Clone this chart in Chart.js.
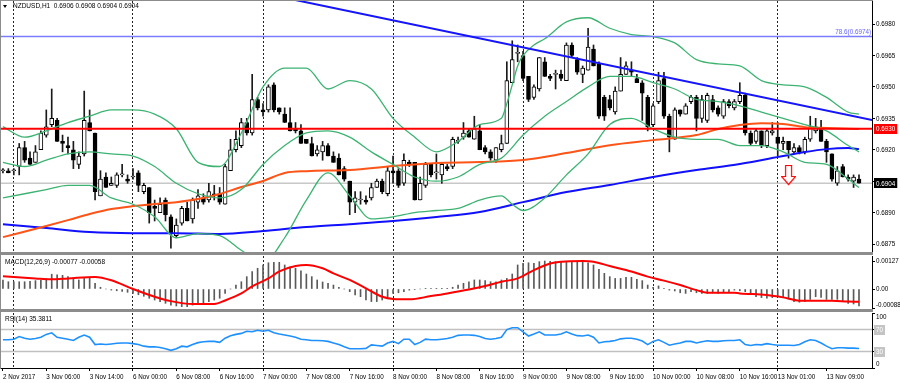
<!DOCTYPE html>
<html><head><meta charset="utf-8"><title>NZDUSD H1</title>
<script src="https://cdn.jsdelivr.net/npm/chart.js@4.4.1/dist/chart.umd.min.js"></script>
<style>
html,body{margin:0;padding:0;background:#fff;}
body{width:900px;height:383px;position:relative;overflow:hidden;font-family:"Liberation Sans",Arial,sans-serif;}
.pane{position:absolute;left:0;width:900px;}
.pane canvas{display:block;}
.sep{position:absolute;left:0;width:873px;background:#8c8c8c;}
.txt{position:absolute;font-size:6.5px;line-height:8px;color:#000;white-space:pre;}
</style></head><body>
<div class="pane" style="top:0;height:253px"><canvas id="cMain" width="900" height="253"></canvas></div>
<div class="pane" style="top:253px;height:57px"><canvas id="cMacd" width="900" height="57"></canvas></div>
<div class="pane" style="top:310px;height:73px"><canvas id="cRsi" width="900" height="73"></canvas></div>
<div class="sep" style="top:252px;height:3px"></div>
<div class="sep" style="top:309px;height:3px"></div>
<div class="sep" style="top:0;height:1px"></div>
<div style="position:absolute;left:0;top:0;width:1px;height:369px;background:#8c8c8c"></div>
<div style="position:absolute;left:3px;top:5px;width:0;height:0;border-left:2.5px solid transparent;border-right:2.5px solid transparent;border-top:3px solid #000"></div>
<div class="txt" style="left:13px;top:2px">NZDUSD,H1  0.6906 0.6908 0.6904 0.6904</div>
<div class="txt" style="left:5px;top:258px">MACD(12,26,9) -0.00077 -0.00058</div>
<div class="txt" style="left:5px;top:315px">RSI(14) 35.3811</div>
<script>
// ---------- DATA ----------
const opens = [.6910,.6910,.6910,.6912,.6921,.6916,.6914,.6920,.6927,.6932,
 .6934,.6924,.6922,.6920,.6913,.6918,.6933,.6928,.6898,.6907,
 .6903,.6903,.6908,.6906,.6907,.6909,.6900,.6902,.6893,.6890,
 .6896,.6888,.6879,.6885,.6892,.6887,.6895,.6897,.6896,.6899,
 .6899,.6894,.6910,.6920,.6922,.6933,.6928,.6944,.6939,.6939,
 .6951,.6940,.6937,.6933,.6930,.6929,.6925,.6923,.6918,.6919,
 .6922,.6917,.6916,.6911,.6905,.6895,.6896,.6896,.6897,.6902,
 .6905,.6899,.6910,.6910,.6904,.6914,.6914,.6896,.6903,.6913,
 .6909,.6908,.6912,.6912,.6924,.6926,.6929,.6925,.6929,.6921,
 .6919,.6915,.6920,.6923,.6952,.6966,.6965,.6955,.6945,.6949,
 .6962,.6955,.6956,.6956,.6953,.6970,.6963,.6956,.6958,.6968,
 .6961,.6945,.6944,.6938,.6948,.6956,.6958,.6954,.6952,.6945,
 .6932,.6943,.6954,.6936,.6925,.6939,.6937,.6943,.6945,.6935,
 .6934,.6944,.6940,.6936,.6943,.6940,.6943,.6946,.6928,.6924,
 .6929,.6922,.6928,.6926,.6923,.6924,.6919,.6921,.6919,.6925,
 .6929,.6930,.6924,.6918,.6904,.6912,.6907,.6905,.6906];
const highs = [.6911,.6911,.6911,.6923,.6924,.6919,.6922,.6929,.6939,.6949,
 .6935,.6927,.6926,.6924,.6919,.6948,.6939,.6928,.6910,.6909,
 .6907,.6909,.6913,.6908,.6911,.6910,.6904,.6902,.6896,.6897,
 .6897,.6889,.6887,.6893,.6895,.6897,.6901,.6899,.6904,.6903,
 .6902,.6913,.6925,.6929,.6935,.6935,.6956,.6945,.6942,.6951,
 .6952,.6940,.6940,.6940,.6933,.6932,.6925,.6926,.6922,.6924,
 .6923,.6919,.6918,.6912,.6905,.6900,.6900,.6898,.6904,.6906,
 .6906,.6912,.6917,.6911,.6918,.6915,.6914,.6907,.6914,.6913,
 .6918,.6914,.6913,.6926,.6926,.6933,.6930,.6936,.6932,.6922,
 .6920,.6921,.6927,.6962,.6972,.6970,.6967,.6955,.6951,.6964,
 .6964,.6956,.6958,.6958,.6971,.6971,.6964,.6960,.6978,.6970,
 .6962,.6946,.6946,.6950,.6964,.6962,.6962,.6956,.6953,.6946,
 .6942,.6957,.6957,.6937,.6940,.6939,.6942,.6946,.6946,.6946,
 .6947,.6946,.6941,.6944,.6944,.6944,.6952,.6947,.6929,.6930,
 .6929,.6930,.6933,.6933,.6926,.6924,.6923,.6922,.6926,.6936,
 .6935,.6934,.6925,.6918,.6912,.6913,.6908,.6908,.6908];
const lows = [.6909,.6909,.6908,.6908,.6914,.6913,.6914,.6920,.6926,.6931,
 .6924,.6919,.6918,.6911,.6911,.6917,.6929,.6896,.6898,.6902,
 .6903,.6902,.6907,.6904,.6906,.6900,.6899,.6885,.6886,.6890,
 .6886,.6873,.6878,.6884,.6886,.6885,.6892,.6894,.6895,.6896,
 .6894,.6894,.6910,.6919,.6921,.6927,.6927,.6939,.6936,.6938,
 .6938,.6937,.6933,.6929,.6928,.6923,.6923,.6917,.6917,.6915,
 .6917,.6914,.6908,.6905,.6889,.6890,.6894,.6894,.6896,.6902,
 .6899,.6898,.6904,.6902,.6903,.6912,.6896,.6896,.6902,.6907,
 .6906,.6904,.6910,.6911,.6923,.6925,.6926,.6925,.6920,.6918,
 .6915,.6914,.6919,.6923,.6952,.6962,.6953,.6943,.6944,.6948,
 .6955,.6953,.6949,.6953,.6953,.6964,.6956,.6952,.6958,.6960,
 .6935,.6934,.6939,.6937,.6948,.6956,.6955,.6952,.6934,.6929,
 .6931,.6942,.6935,.6919,.6925,.6936,.6937,.6942,.6929,.6933,
 .6933,.6938,.6936,.6935,.6940,.6939,.6942,.6927,.6922,.6923,
 .6921,.6921,.6927,.6917,.6920,.6916,.6918,.6918,.6918,.6924,
 .6928,.6924,.6914,.6905,.6903,.6907,.6905,.6902,.6904];
const closes = [.6910,.6909,.6910,.6921,.6915,.6913,.6919,.6928,.6931,.6935,
 .6924,.6923,.6921,.6915,.6917,.6934,.6929,.6900,.6906,.6902,
 .6904,.6908,.6908,.6905,.6907,.6903,.6903,.6890,.6892,.6894,
 .6889,.6880,.6884,.6892,.6886,.6896,.6898,.6895,.6900,.6898,
 .6895,.6912,.6920,.6925,.6933,.6928,.6944,.6940,.6938,.6950,
 .6939,.6938,.6933,.6929,.6929,.6923,.6923,.6917,.6920,.6922,
 .6917,.6914,.6908,.6906,.6895,.6897,.6896,.6895,.6902,.6905,
 .6900,.6910,.6909,.6903,.6915,.6913,.6896,.6904,.6913,.6908,
 .6909,.6913,.6911,.6925,.6924,.6928,.6926,.6930,.6920,.6919,
 .6916,.6921,.6923,.6953,.6963,.6966,.6954,.6944,.6950,.6964,
 .6955,.6954,.6956,.6954,.6970,.6965,.6957,.6959,.6969,.6960,
 .6936,.6936,.6940,.6948,.6956,.6960,.6957,.6952,.6947,.6931,
 .6941,.6953,.6936,.6926,.6939,.6937,.6941,.6945,.6935,.6944,
 .6946,.6939,.6937,.6943,.6941,.6943,.6946,.6928,.6923,.6929,
 .6922,.6929,.6929,.6923,.6924,.6920,.6921,.6919,.6925,.6931,
 .6931,.6924,.6919,.6906,.6910,.6907,.6906,.6907,.6904];

// Bollinger bands (20,2), moving averages: values read at sampled bars
const upperIdx = [0,4,8,12,16,20,24,28,32,36,40,44,48,52,56,60,64,68,72,76,80,84,88,92,93,94,95,96,98,100,104,108,112,116,120,124,128,132,136,140,144,148,152,156,158];
const upperVal = [0.6931,0.6926,0.6929,0.6933,0.6936,0.6939,0.6939,0.6937,0.6930,0.6914,0.6912,0.6928,0.6950,0.6959,0.6959,0.6949,0.6953,0.6949,0.6935,0.6926,0.6919,0.6924,0.6932,0.6935,0.6942,0.6951,0.6960,0.6965,0.6970,0.6973,0.6981,0.6983,0.6978,0.6975,0.6974,0.6971,0.6963,0.6961,0.6960,0.6953,0.6951,0.6950,0.6945,0.6938,0.6937];
const middleIdx = [0,4,8,12,16,20,24,28,32,36,40,44,48,52,56,60,64,68,72,76,80,84,88,92,96,100,104,108,112,116,120,124,128,132,136,140,144,148,152,156,158];
const middleVal = [0.6914,0.6912,0.6915,0.6918,0.6919,0.6918,0.6917,0.6912,0.6904,0.6899,0.6897,0.6901,0.6913,0.6922,0.6928,0.6929,0.6926,0.6919,0.6913,0.6907,0.6905,0.6907,0.6913,0.6916,0.6927,0.6936,0.6943,0.6950,0.6955,0.6955,0.6952,0.6949,0.6944,0.6943,0.6941,0.6938,0.6935,0.6932,0.6929,0.6922,0.6919];
const lowerIdx = [0,4,8,12,16,20,24,28,32,36,40,44,48,52,56,60,64,68,72,76,80,84,88,92,94,96,100,104,108,112,116,120,124,128,132,136,140,144,148,152,156,158];
const lowerVal = [0.6897,0.6899,0.6901,0.6903,0.6903,0.6897,0.6894,0.6888,0.6878,0.6880,0.6879,0.6872,0.6866,0.6878,0.6896,0.6909,0.6898,0.6887,0.6888,0.6890,0.6891,0.6892,0.6896,0.6898,0.6894,0.6891,0.6897,0.6908,0.6918,0.6932,0.6935,0.6930,0.6926,0.6925,0.6925,0.6922,0.6922,0.6919,0.6914,0.6913,0.6906,0.6902];
const orangeIdx = [0,8,12,16,20,24,28,32,36,40,44,48,52,56,64,72,80,88,96,104,112,120,128,132,136,140,144,148,152,158];
const orangeVal = [0.68783,0.68836,0.68864,0.68893,0.68917,0.68931,0.68941,0.68950,0.68965,0.68989,0.69022,0.69051,0.69089,0.69098,0.69103,0.69122,0.69137,0.69141,0.69151,0.69184,0.69222,0.69246,0.69270,0.69299,0.69318,0.69327,0.69323,0.69308,0.69304,0.69299];
const blueIdx = [0,8,16,24,32,40,48,56,64,72,80,88,96,104,112,120,128,136,144,148,152,156,158];
const blueVal = [0.68845,0.68826,0.68807,0.68802,0.68802,0.68798,0.68812,0.68831,0.68845,0.68860,0.68879,0.68903,0.68950,0.68998,0.69032,0.69070,0.69103,0.69132,0.69170,0.69189,0.69203,0.69208,0.69203];

// Drawn objects
const trendIdx = [50, 161];
const trendVal = [0.69936, 0.69339];
const resistanceLevel = 0.6930;
const fibLevel = 0.6974;
const fibText = '78.6(0.6974)';
const bidLevel = 0.6904;
const arrowIdx = 145, arrowVal = 0.69077;

// MACD (main as histogram, signal as line)
const macdHist = [.00041,.00033,.00033,.00033,.00033,.00035,.00038,.00041,.00048,.00067,
 .00064,.00062,.00056,.00047,.00041,.00048,.00050,.00026,.00008,.00000,
 -.00005,-.00008,-.00011,-.00015,-.00020,-.00026,-.00033,-.00042,-.00050,-.00057,
 -.00065,-.00073,-.00077,-.00080,-.00080,-.00073,-.00068,-.00065,-.00057,-.00050,
 -.00042,-.00020,.00000,.00018,.00033,.00056,.00079,.00094,.00109,.00119,
 .00121,.00121,.00109,.00101,.00094,.00083,.00068,.00056,.00041,.00032,
 .00026,.00018,.00008,.00000,-.00012,-.00027,-.00035,-.00050,-.00057,-.00057,
 -.00050,-.00035,-.00020,-.00017,-.00012,-.00005,-.00002,.00000,.00003,.00003,
 .00003,.00003,.00003,.00008,.00018,.00026,.00033,.00041,.00041,.00038,
 .00033,.00033,.00041,.00048,.00068,.00109,.00116,.00119,.00116,.00124,
 .00127,.00126,.00124,.00126,.00126,.00126,.00125,.00124,.00119,.00109,
 .00089,.00071,.00056,.00048,.00048,.00053,.00053,.00044,.00038,.00018,
 .00008,.00014,.00003,-.00005,-.00009,-.00017,-.00020,-.00012,-.00017,-.00020,
 -.00020,-.00017,-.00020,-.00012,-.00012,-.00005,-.00008,-.00012,-.00020,-.00035,
 -.00039,-.00042,-.00039,-.00035,-.00038,-.00045,-.00057,-.00060,-.00057,-.00047,
 -.00035,-.00038,-.00047,-.00047,-.00047,-.00057,-.00065,-.00068,-.00077];
const sigIdx = [0,6,9,12,17,20,24,28,31,35,39,41,44,46,49,51,54,56,59,61,64,67,70,72,75,79,82,86,89,92,95,98,101,103,107,109,112,116,119,122,125,128,130,135,136,141,144,147,153,156,158];
const sigVal = [.00058,.00048,.00044,.00048,.00055,.00040,.00000,-.00035,-.00055,-.00068,-.00068,-.00052,-.00020,.00012,.00048,.00080,.00104,.00109,.00094,.00071,.00041,.00003,-.00035,-.00045,-.00047,-.00032,-.00020,-.00002,.00014,.00033,.00048,.00086,.00116,.00124,.00127,.00124,.00104,.00079,.00056,.00038,.00018,-.00005,-.00017,-.00017,-.00020,-.00027,-.00038,-.00053,-.00053,-.00057,-.00058];

// RSI(14)
const rsi = [51.3,51.3,52.4,57.1,54.2,52.4,53.6,55.9,61.1,64.0,
 55.9,54.2,52.4,50.1,55.9,60.0,55.9,42.6,43.7,42.6,
 43.7,44.9,45.5,45.5,44.3,42.6,39.7,38.5,38.5,37.4,
 35.0,32.1,35.0,39.7,38.5,42.6,46.1,47.8,48.4,48.4,
 46.6,54.2,58.8,61.1,62.9,66.9,65.8,68.7,66.9,68.7,
 64.0,61.7,60.0,58.2,55.9,52.4,51.3,50.1,50.1,49.5,
 48.4,45.5,42.6,38.5,35.0,35.0,35.0,35.6,42.0,40.8,
 39.7,45.5,48.4,44.3,52.4,52.4,42.6,46.6,52.4,51.3,
 51.3,52.4,53.6,55.9,59.4,60.0,60.0,59.4,57.1,53.6,
 52.4,53.6,55.9,69.8,73.3,73.3,65.8,58.2,61.7,65.8,
 60.0,60.0,60.0,61.7,65.8,61.7,58.8,58.2,60.0,55.9,
 45.5,47.8,48.4,50.1,53.0,54.2,54.2,52.4,49.0,42.6,
 48.4,51.3,46.6,41.4,43.7,45.5,48.4,48.4,45.5,47.8,
 49.5,48.4,48.4,49.5,50.1,50.1,51.3,42.6,40.8,42.6,
 42.0,44.3,42.6,41.4,41.4,41.4,40.8,42.6,47.8,51.3,
 50.1,45.5,39.7,35.0,36.8,36.8,36.2,36.2,35.4];
const rsiLevels = [70, 30];

// Axis ticks
const priceTicks = [0.6875,0.6890,0.6905,0.6920,0.6935,0.6950,0.6965,0.6980];
const macdTicks = [0.00127, 0, -0.00088];
const macdTickText = ['0.00127','0.00','-0.00088'];
const rsiTicks = [100, 70, 30, 0];
const daySeparators = [2,24,48,72,96,120,143];
const timeTickIdx = [0,8,16,24,32,40,48,56,64,72,80,88,96,104,112,120,128,136,143,152];
const timeTickLabels = ['2 Nov 2017','3 Nov 06:00','3 Nov 14:00','6 Nov 00:00','6 Nov 08:00','6 Nov 16:00','7 Nov 00:00','7 Nov 08:00','7 Nov 16:00','8 Nov 00:00','8 Nov 08:00','8 Nov 16:00','9 Nov 00:00','9 Nov 08:00','9 Nov 16:00','10 Nov 00:00','10 Nov 08:00','10 Nov 16:00','13 Nov 01:00','13 Nov 09:00'];

// ---------- CHARTS ----------
const FAMILY = '"Liberation Sans", Arial, sans-serif';
const FS = 6.3;
const X_MIN = -0.36, X_MAX = 160.4;
const PRICE_MIN = 0.68712, PRICE_MAX = 0.69910;
const MACD_MIN = -0.000907, MACD_MAX = 0.001497;

const idx = closes.map((_, i) => i);
const ser = (ix, vals) => ix.map((x, k) => ({x, y: vals[k]}));
const hLine = v => [{x: X_MIN - 1, y: v}, {x: X_MAX + 1, y: v}];
const line = (data, color, width, order, extra) => Object.assign({
  type: 'line', data, borderColor: color, borderWidth: width, pointRadius: 0,
  fill: false, order, cubicInterpolationMode: 'monotone'}, extra || {});

function gridX() {
  return { type: 'linear', min: X_MIN, max: X_MAX, offset: false,
    afterBuildTicks: s => { s.ticks = daySeparators.map(v => ({value: v})); },
    ticks: {display: false},
    grid: {display: true, offset: false, drawOnChartArea: true, drawTicks: false, color: '#222', lineWidth: 1},
    border: {display: false, dash: [2, 2]} };
}
function rightAxis(min, max, vals) {
  return { type: 'linear', position: 'right', min, max, beginAtZero: false, grace: 0,
    afterBuildTicks: s => { s.ticks = vals.map(v => ({value: v})); },
    afterFit: s => { s.width = 28; },
    ticks: {display: false},
    grid: {drawOnChartArea: false, drawTicks: true, tickLength: 3, color: '#000', lineWidth: 1},
    border: {display: true, color: '#000', width: 1} };
}
function sideLabels(items, extra) {
  return { id: 'sideLabels', afterDraw(chart) {
    const s = chart.scales.y, a = chart.chartArea, ctx = chart.ctx;
    ctx.save();
    ctx.font = FS + 'px ' + FAMILY;
    ctx.textBaseline = 'middle'; ctx.textAlign = 'left';
    for (const it of items) {
      let y = s.getPixelForValue(it.value);
      y = Math.max(a.top + 4, Math.min(a.bottom - 4, y));
      const x = a.right + 4;
      if (it.bg) {
        const w = ctx.measureText(it.text).width;
        ctx.fillStyle = it.bg;
        ctx.fillRect(x - 2, Math.round(y) - 5, w + 4, 10);
      }
      ctx.fillStyle = it.color || '#000';
      ctx.fillText(it.text, x, y + 0.5);
    }
    if (extra) extra(chart, ctx);
    ctx.restore();
  }};
}
const baseOpts = (padding) => ({
  responsive: false, animation: false, devicePixelRatio: 1, events: [],
  layout: {padding, autoPadding: false},
  plugins: {legend: {display: false}, tooltip: {enabled: false}, title: {display: false}}
});

function makeArrow() {
  const c = document.createElement('canvas'); c.width = 15; c.height = 21;
  const g = c.getContext('2d');
  g.beginPath();
  g.moveTo(4.5, 0.5); g.lineTo(10.5, 0.5); g.lineTo(10.5, 11.5); g.lineTo(14.5, 11.5);
  g.lineTo(7.5, 19.5); g.lineTo(0.5, 11.5); g.lineTo(4.5, 11.5); g.closePath();
  g.fillStyle = '#fff'; g.fill();
  g.strokeStyle = '#ff0000'; g.lineWidth = 1.2; g.stroke();
  return c;
}

// Main price panel
const mainItems = priceTicks.map(v => ({value: v, text: v.toFixed(4)}))
  .concat([{value: resistanceLevel, text: resistanceLevel.toFixed(4), bg: '#ff0000', color: '#fff'},
           {value: bidLevel, text: bidLevel.toFixed(4), bg: '#000', color: '#fff'}]);
new Chart(document.getElementById('cMain'), {
  type: 'bar',
  data: { datasets: [
    line(hLine(bidLevel), '#c8c8c8', 1.5, 20),
    {type: 'bar', data: idx.map(i => ({x: i, y: [lows[i], highs[i]]})), backgroundColor: '#1a1a1a',
     barThickness: 1, grouped: false, order: 15},
    {type: 'bar', data: idx.map(i => ({x: i, y: [opens[i], closes[i]]})),
     backgroundColor: c => (closes[c.dataIndex] >= opens[c.dataIndex] ? '#ffffff' : '#000000'),
     borderColor: '#000', borderWidth: 1, borderSkipped: false, barThickness: 4, minBarLength: 1,
     grouped: false, order: 14},
    line(ser(blueIdx, blueVal), '#1010ff', 2, 8),
    line(ser(orangeIdx, orangeVal), '#ff5418', 2, 7),
    line(ser(upperIdx, upperVal), '#3cb371', 1.3, 6),
    line(ser(middleIdx, middleVal), '#3cb371', 1.3, 6),
    line(ser(lowerIdx, lowerVal), '#3cb371', 1.3, 6),
    line(hLine(resistanceLevel), '#ff0000', 2, 4),
    line(hLine(fibLevel), '#7c7cff', 1.5, 4),
    line(ser(trendIdx, trendVal), '#1414ff', 2, 3, {cubicInterpolationMode: 'default', tension: 0}),
    {type: 'line', showLine: false, data: [{x: arrowIdx, y: arrowVal}], pointStyle: makeArrow(),
     pointRadius: 10, order: 1}
  ]},
  options: Object.assign(baseOpts({left: 1, right: 0, top: 1, bottom: 1}), {
    scales: { x: gridX(), y: rightAxis(PRICE_MIN, PRICE_MAX, priceTicks) }
  }),
  plugins: [sideLabels(mainItems, (chart, ctx) => {
    const a = chart.chartArea, y = chart.scales.y.getPixelForValue(fibLevel);
    ctx.textAlign = 'right'; ctx.fillStyle = '#6464ff';
    ctx.fillText(fibText, a.right - 1, y - 4);
  })]
});

// MACD panel
new Chart(document.getElementById('cMacd'), {
  type: 'bar',
  data: { datasets: [
    {type: 'bar', data: ser(idx, macdHist), backgroundColor: '#5a5a5a', barThickness: 1, order: 2},
    line(ser(sigIdx, sigVal), '#ff0000', 2, 1)
  ]},
  options: Object.assign(baseOpts({left: 1, right: 0, top: 3, bottom: 1}), {
    scales: { x: gridX(), y: rightAxis(MACD_MIN, MACD_MAX, macdTicks) }
  }),
  plugins: [sideLabels(macdTicks.map((v, k) => ({value: v, text: macdTickText[k]})))]
});

// RSI panel
const rsiItems = rsiTicks.map(v => (rsiLevels.includes(v)
  ? {value: v, text: String(v), bg: '#c4c4c4', color: '#fff'} : {value: v, text: String(v)}));
const xl = { type: 'linear', position: 'bottom', min: X_MIN, max: X_MAX, offset: false,
  afterBuildTicks: s => { s.ticks = timeTickIdx.map(v => ({value: v})); },
  afterFit: s => { s.height = 15; },
  ticks: {autoSkip: false, maxRotation: 0, minRotation: 0, align: 'start', padding: 2,
    color: '#000', font: {size: FS, family: FAMILY}, callback: (v, i) => timeTickLabels[i]},
  grid: {drawOnChartArea: false, offset: false, drawTicks: true, tickLength: 3, color: '#000'},
  border: {display: true, color: '#000'} };
new Chart(document.getElementById('cRsi'), {
  type: 'line',
  data: { datasets: [
    line(hLine(rsiLevels[0]), '#c0c0c0', 1.5, 3),
    line(hLine(rsiLevels[1]), '#c0c0c0', 1.5, 3),
    line(ser(idx, rsi), '#1e90ff', 1.6, 1, {cubicInterpolationMode: 'default', tension: 0})
  ]},
  options: Object.assign(baseOpts({left: 1, right: 0, top: 3, bottom: 0}), {
    scales: { x: gridX(), xl, y: rightAxis(0, 100, rsiTicks) }
  }),
  plugins: [sideLabels(rsiItems)]
});
</script>
</body></html>
